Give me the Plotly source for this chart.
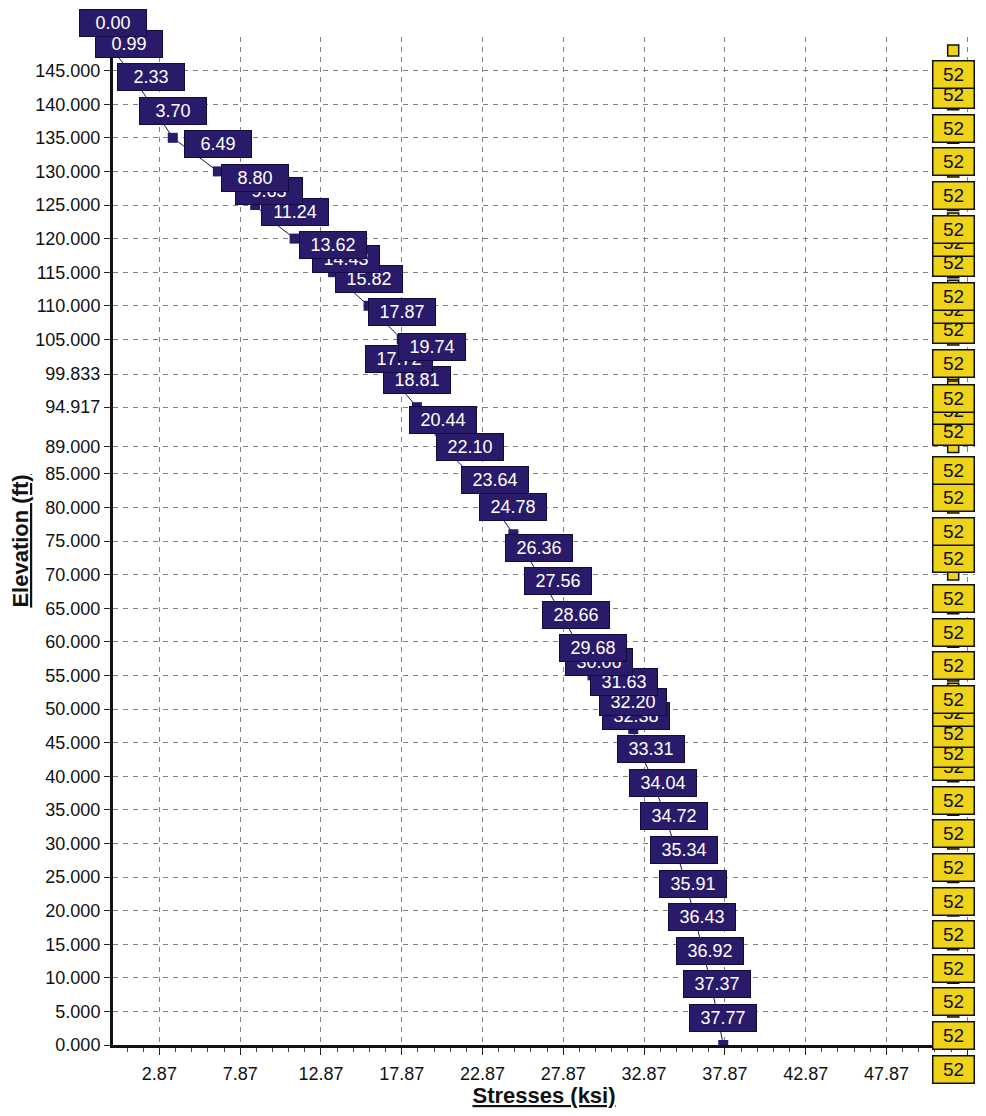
import plotly.graph_objects as go

# ---------------- data (ascending elevation) ----------------
elevation_ft = [0, 5, 10, 15, 20, 25, 30, 35, 40, 45, 47, 50, 53, 55, 60, 65, 70, 76, 80,
                85, 89, 94.917, 98, 99.833, 105, 110, 113, 115, 120, 123, 125, 130, 135,
                140, 145, 148]
stress_ksi = [37.77, 37.37, 36.92, 36.43, 35.91, 35.34, 34.72, 34.04, 33.31, 32.38, 32.20,
              31.63, 30.06, 29.68, 28.66, 27.56, 26.36, 24.78, 23.64, 22.10, 20.44, 18.81,
              17.72, 19.74, 17.87, 15.82, 14.43, 13.62, 11.24, 9.63, 8.80, 6.49, 3.70,
              2.33, 0.99, 0.00]
allowable_ksi = [52, 52, 52, 52, 52, 52, 52, 52, 52, 52, 52, 52, 52, 52, 52, 52, 52, 52,
                 52, 52, 52, 52, 52, 52, 52, 52, 52, 52, 52, 52, 52, 52, 52, 52, 52, 52]

x_tickvals = [2.87, 7.87, 12.87, 17.87, 22.87, 27.87, 32.87, 37.87, 42.87, 47.87, 52.87]
x_ticktext = ["2.87", "7.87", "12.87", "17.87", "22.87", "27.87", "32.87", "37.87",
              "42.87", "47.87", "52.87"]
y_tickvals = [0, 5, 10, 15, 20, 25, 30, 35, 40, 45, 50, 55, 60, 65, 70, 75, 80, 85, 89,
              94.917, 99.833, 105, 110, 115, 120, 125, 130, 135, 140, 145]
y_ticktext = ["0.000", "5.000", "10.000", "15.000", "20.000", "25.000", "30.000", "35.000",
              "40.000", "45.000", "50.000", "55.000", "60.000", "65.000", "70.000", "75.000",
              "80.000", "85.000", "89.000", "94.917", "99.833", "105.000", "110.000",
              "115.000", "120.000", "125.000", "130.000", "135.000", "140.000", "145.000"]

PURPLE = "#2a1a6a"
YELLOW = "#efd31a"
FONT = "Arial, Liberation Sans, sans-serif"

fig = go.Figure()

fig.add_trace(go.Scatter(
    x=allowable_ksi, y=elevation_ft, mode="markers",
    marker=dict(symbol="square", size=11, color=YELLOW, line=dict(color="#111", width=1.5)),
    hoverinfo="skip", showlegend=False))

fig.add_trace(go.Scatter(
    x=stress_ksi, y=elevation_ft, mode="lines+markers",
    line=dict(color="#1c1248", width=1),
    marker=dict(symbol="square", size=10, color=PURPLE),
    hoverinfo="skip", showlegend=False))

annotations = []
for s, e in zip(stress_ksi, elevation_ft):
    annotations.append(dict(
        x=s, y=e, xref="x", yref="y", text=f"{s:.2f}", showarrow=False, yshift=27,
        font=dict(family=FONT, size=18, color="white"),
        bgcolor=PURPLE, bordercolor="#150a40", borderwidth=1, borderpad=1,
        width=64, height=24, align="center", valign="middle"))
for a, e in zip(allowable_ksi, elevation_ft):
    annotations.append(dict(
        x=a, y=e, xref="x", yref="y", text=f"{a}", showarrow=False, yshift=-24,
        font=dict(family=FONT, size=19, color="#111"),
        bgcolor=YELLOW, bordercolor="#111", borderwidth=1.5, borderpad=1,
        width=38, height=24, align="center", valign="middle"))

# The page body has an 8px default margin, so the figure is 16px smaller than the window.
fig.update_layout(
    width=970, height=1100,
    margin=dict(l=105, r=3, t=29, b=63),
    paper_bgcolor="white", plot_bgcolor="white",
    font=dict(family=FONT, color="#111"),
    annotations=annotations,
    xaxis=dict(
        range=[0, 53.35], tickvals=x_tickvals, ticktext=x_ticktext,
        tickfont=dict(size=18, color="#111"),
        ticks="outside", ticklen=7, tickwidth=1, tickcolor="#222",
        ticklabelstandoff=3,
        minor=dict(ticks="outside", ticklen=4, tick0=0.87, dtick=1, tickcolor="#444",
                   showgrid=False),
        showline=True, linewidth=3, linecolor="#111",
        showgrid=True, gridcolor="#808080", gridwidth=1, griddash="5px,5px",
        zeroline=False, automargin=False,
        title=dict(text="<b><u>Stresses (ksi)</u></b>", font=dict(size=22, color="#111"),
                   standoff=6)),
    yaxis=dict(
        range=[0, 150], tickvals=y_tickvals, ticktext=y_ticktext,
        tickfont=dict(size=18, color="#111"),
        ticks="outside", ticklen=6, tickwidth=1, tickcolor="#222",
        showline=True, linewidth=3, linecolor="#111",
        showgrid=True, gridcolor="#808080", gridwidth=1, griddash="5px,5px",
        zeroline=False, automargin=False,
        title=dict(text="<b><u>Elevation (ft)</u></b>", font=dict(size=22, color="#111"),
                   standoff=6)),
)

fig.write_html("out.html")
